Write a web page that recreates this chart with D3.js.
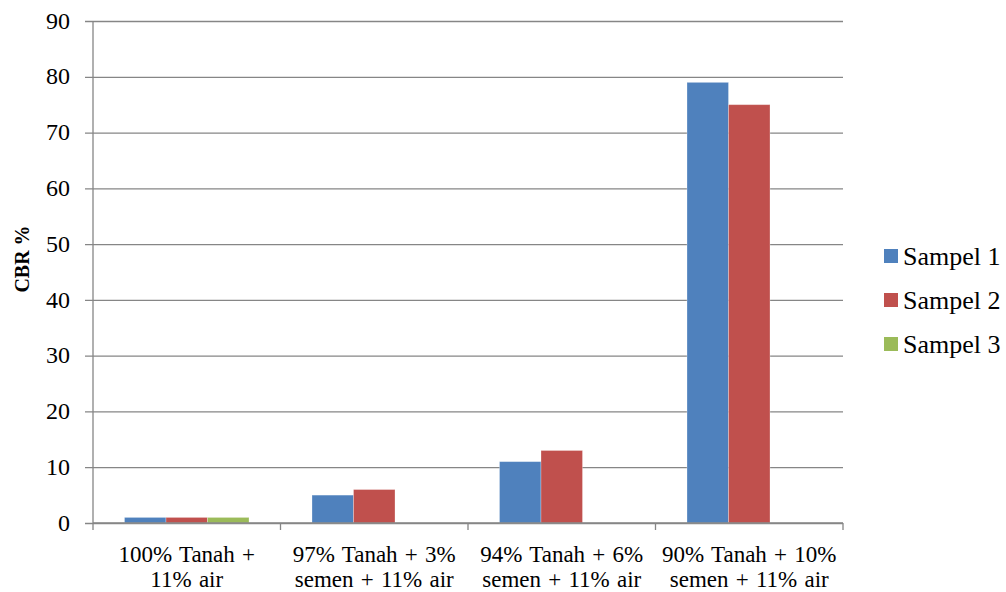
<!DOCTYPE html>
<html>
<head>
<meta charset="utf-8">
<script src="https://cdn.jsdelivr.net/npm/d3@7"></script>
<style>
  body { margin: 0; background: #fff; }
  svg, svg text { font-family: "Liberation Serif", "Times New Roman", serif; }
</style>
</head>
<body>
<svg id="chart"></svg>
<script>
// data
var categories = [
  ["100% Tanah +", "11% air"],
  ["97% Tanah + 3%", "semen + 11% air"],
  ["94% Tanah + 6%", "semen + 11% air"],
  ["90% Tanah + 10%", "semen + 11% air"]
];
var seriesNames = ["Sampel 1", "Sampel 2", "Sampel 3"];
var sampel1 = [1, 5, 11, 79];
var sampel2 = [1, 6, 13, 75];
var sampel3 = [1, 0, 0, 0];
var yTicks = [0, 10, 20, 30, 40, 50, 60, 70, 80, 90];
var colors = ["#4F81BD", "#C0504D", "#9BBB59"];

var svg = d3.select("#chart").attr("width", 1006).attr("height", 592),
    margin = {top: 21, left: 93},
    width = 750,
    height = 502;

var g = svg.append("g").attr("transform", "translate(" + margin.left + "," + margin.top + ")");

var values = [sampel1, sampel2, sampel3];
var idx = d3.range(categories.length);

var x0 = d3.scaleBand().domain(idx).range([0, width]).padding(0);
var x1 = d3.scaleBand().domain(d3.range(seriesNames.length))
    .range([x0.bandwidth() * 0.168, x0.bandwidth() * 0.832]);
var y = d3.scaleLinear().domain([0, 90]).range([height, 0]);
var z = d3.scaleOrdinal().domain(seriesNames).range(colors);

// gridlines (axis without its labels)
var yAxis = d3.axisLeft(y).tickValues(yTicks).tickSize(-width).tickFormat("");
var yG = g.append("g").call(yAxis);
yG.select(".domain").remove();
yG.selectAll(".tick text").remove();
yG.selectAll(".tick line").attr("stroke", "#868686").attr("stroke-width", 1.3)
  .attr("x1", -8);

// y tick labels, serif like the rest
g.selectAll(".ylabel").data(yTicks).enter().append("text")
  .attr("class", "ylabel")
  .attr("x", -23)
  .attr("y", function(d) { return y(d); })
  .attr("dy", "0.32em")
  .attr("text-anchor", "end")
  .style("font-size", "24px")
  .text(function(d) { return d; });

g.append("line")
  .attr("x1", 0).attr("x2", 0).attr("y1", 0).attr("y2", height)
  .attr("stroke", "#868686").attr("stroke-width", 1.3);

// bars
var cat = g.selectAll(".cat").data(idx).enter().append("g")
  .attr("class", "cat")
  .attr("transform", function(i) { return "translate(" + x0(i) + ",0)"; });

cat.selectAll("rect")
  .data(function(i) { return values.map(function(v, s) { return {s: s, v: v[i]}; }); })
  .enter().append("rect")
  .filter(function(d) { return d.v > 0; })
  .attr("x", function(d) { return x1(d.s); })
  .attr("width", x1.bandwidth())
  .attr("y", function(d) { return y(d.v); })
  .attr("height", function(d) { return height - y(d.v); })
  .attr("fill", function(d) { return colors[d.s]; })
  .attr("stroke", "#ffffff").attr("stroke-opacity", 0.35).attr("stroke-width", 0.8);

// x axis
g.append("line")
  .attr("x1", 0).attr("x2", width).attr("y1", height).attr("y2", height)
  .attr("stroke", "#868686").attr("stroke-width", 1.3);
g.selectAll(".xtick").data(d3.range(categories.length + 1)).enter().append("line")
  .attr("x1", function(i) { return i * x0.step(); })
  .attr("x2", function(i) { return i * x0.step(); })
  .attr("y1", height).attr("y2", height + 7)
  .attr("stroke", "#868686").attr("stroke-width", 1.3);

var lbl = g.selectAll(".xlabel").data(idx).enter().append("text")
  .attr("class", "xlabel")
  .attr("text-anchor", "middle")
  .style("font-size", "23px")
  .style("word-spacing", "1.5px")
  .attr("transform", function(i) { return "translate(" + (x0(i) + x0.bandwidth() / 2) + "," + (height + 39) + ")"; });
lbl.selectAll("tspan").data(function(i) { return categories[i]; }).enter().append("tspan")
  .attr("x", 0)
  .attr("dy", function(d, j) { return j === 0 ? 0 : 25; })
  .text(function(d) { return d; });

// y title
svg.append("text")
  .attr("transform", "translate(29,259) rotate(-90)")
  .attr("text-anchor", "middle")
  .style("font-size", "20px")
  .style("font-weight", "bold")
  .text("CBR %");

// legend
var legend = svg.selectAll(".legend").data(seriesNames).enter().append("g")
  .attr("class", "legend")
  .attr("transform", function(d, i) { return "translate(884," + (249 + i * 44) + ")"; });
legend.append("rect").attr("width", 14).attr("height", 14)
  .attr("fill", function(d) { return z(d); });
legend.append("text").attr("x", 19).attr("y", 7).attr("dy", "0.35em")
  .style("font-size", "26px")
  .text(function(d) { return d; });
</script>
</body>
</html>
